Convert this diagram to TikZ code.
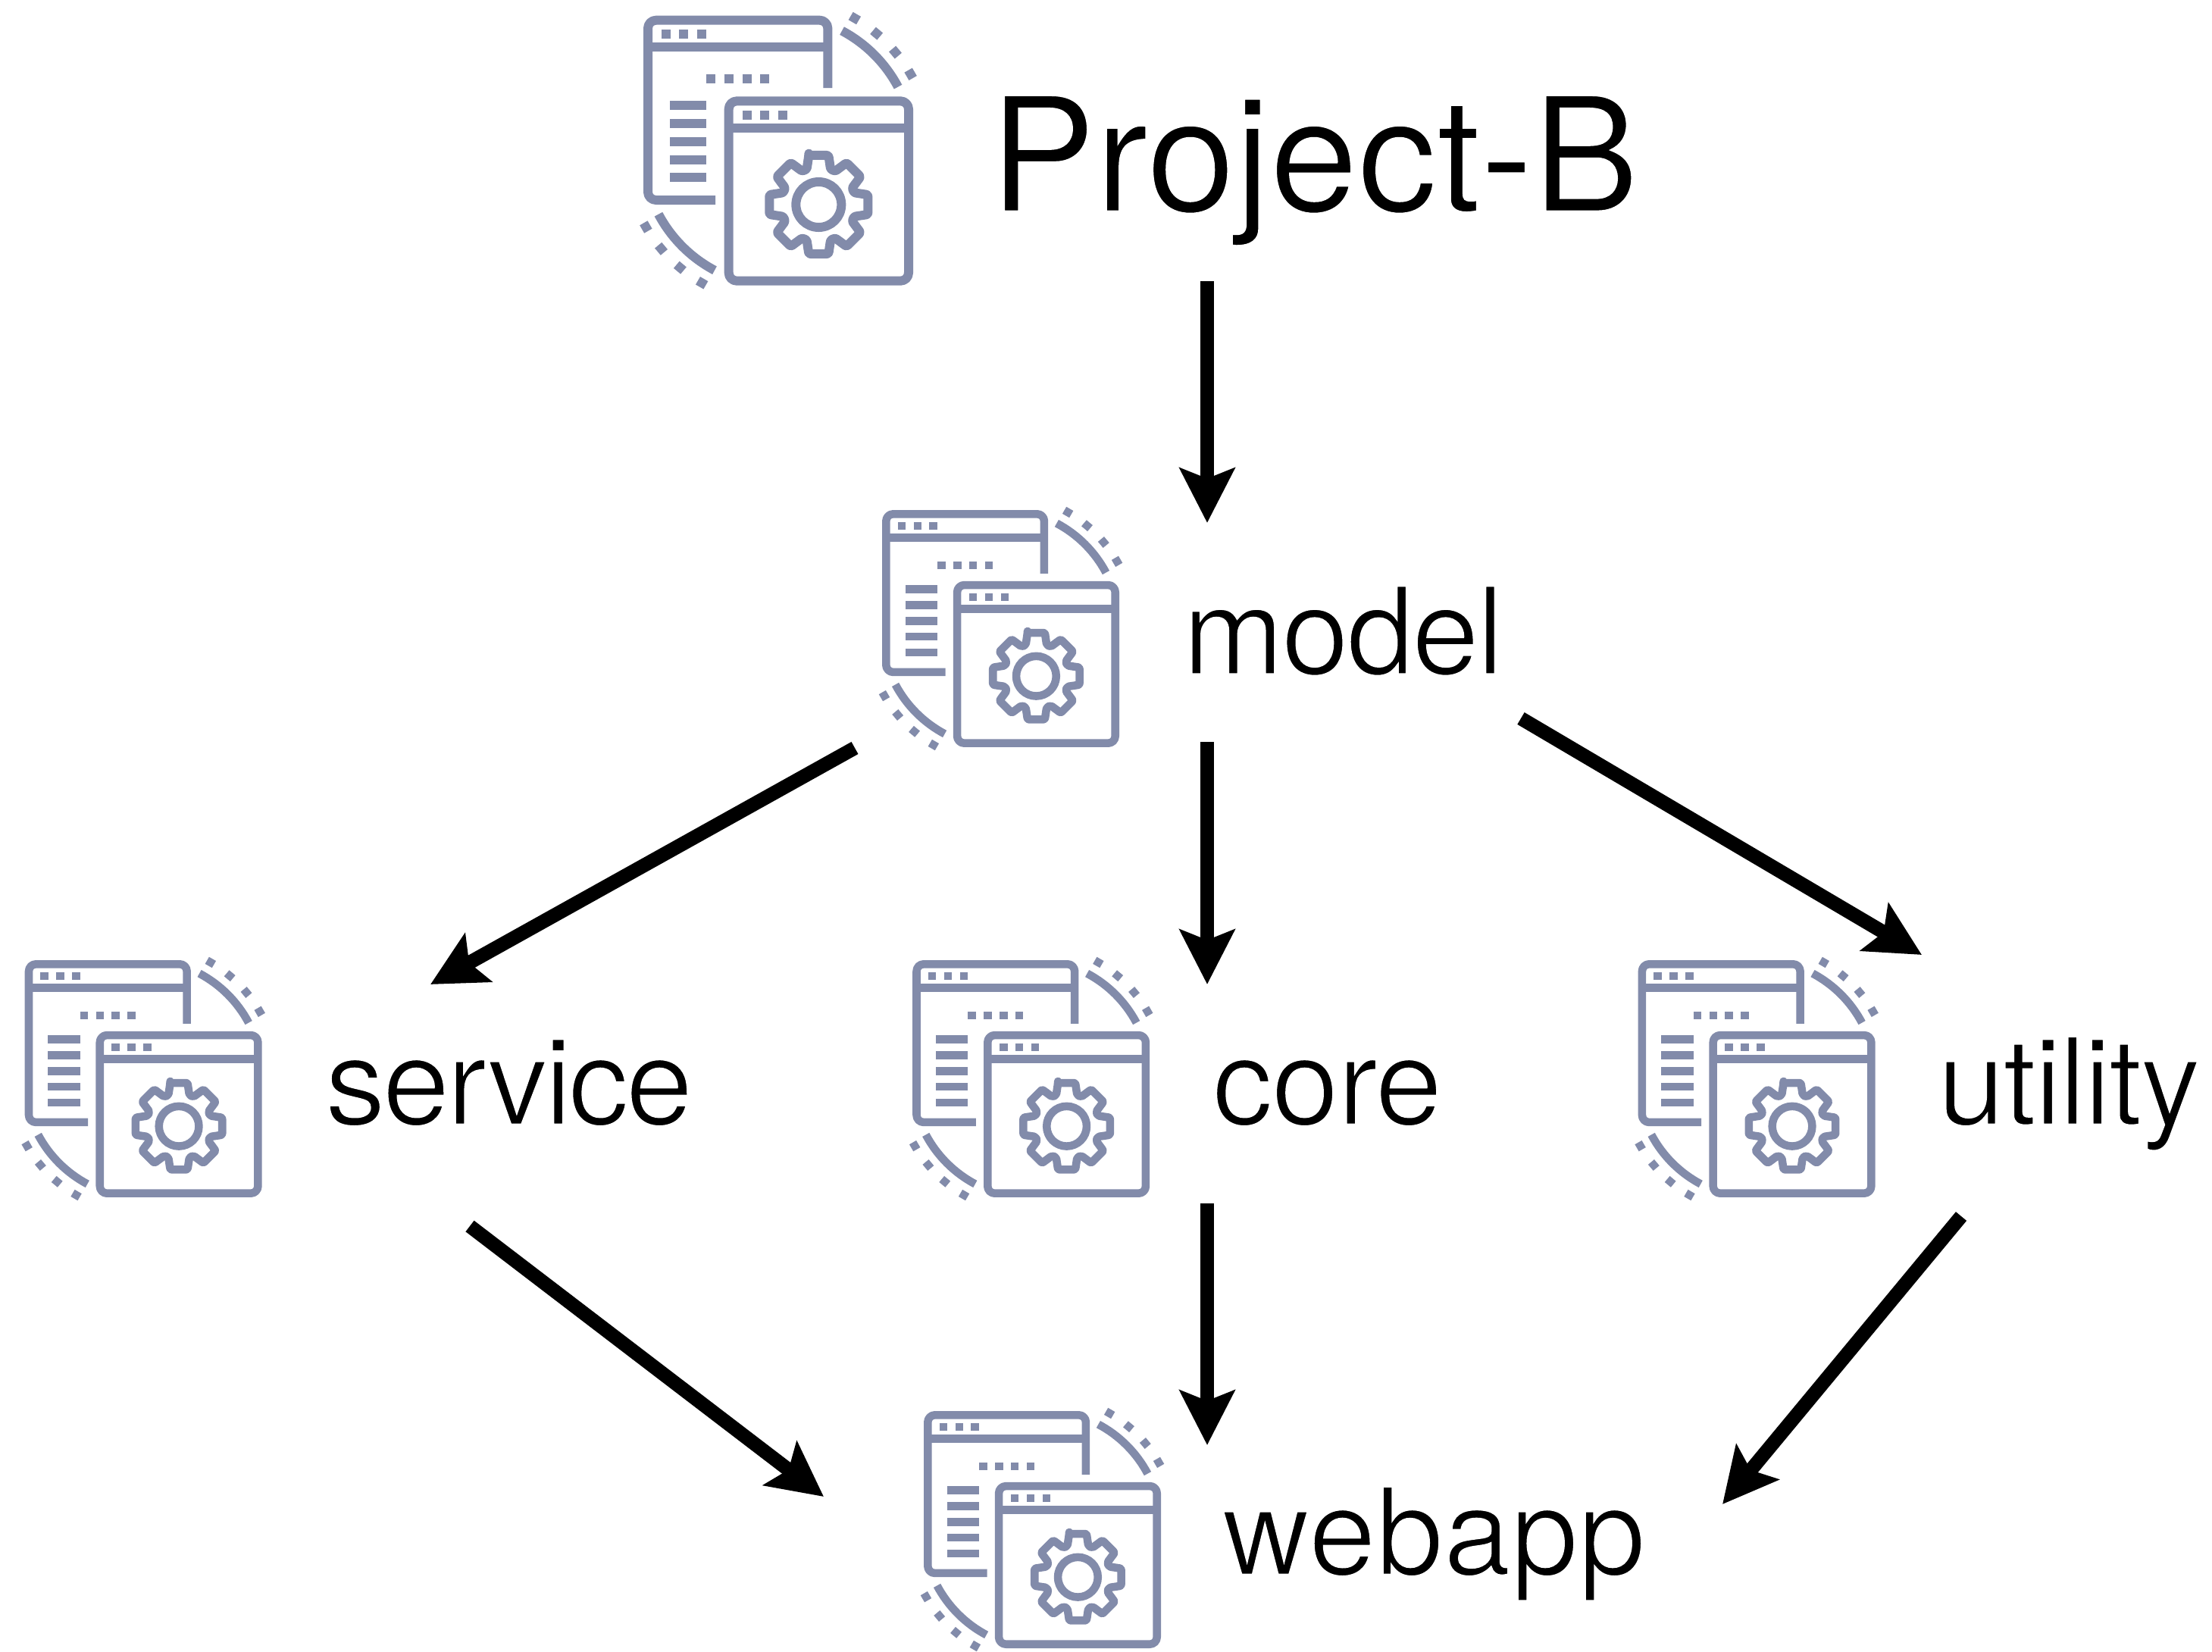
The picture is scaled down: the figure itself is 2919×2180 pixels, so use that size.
\documentclass[tikz,border=0pt]{standalone}
\usepackage{fontspec}
\setmainfont{TeX Gyre Heros}
\usetikzlibrary{arrows.meta}
\definecolor{iconblue}{HTML}{828BAA}
\tikzset{
  conn/.style={line width=4.6pt,draw=black,-{Stealth[length=18pt,width=18pt,inset=3.4pt]}},
  biglabel/.style={anchor=base west,inner sep=0pt,font=\fontsize{52.4}{60}\selectfont},
  label/.style={anchor=base west,inner sep=0pt,font=\fontsize{40}{48}\selectfont},
  iconline/.style={draw=iconblue,fill=none,line cap=butt,line join=round}
}
% #1 white-stroke width that thins the glyphs, #2 letter spacing, #3 text
\newcommand\thin[3]{\addfontfeatures{LetterSpace=#2}\special{pdf:code 2 Tr 1 1 1 RG #1 w}#3\special{pdf:code 0 Tr}}
% #1 left, #2 top, #3 size (reference pixels)
\newcommand\appicon[3]{%
  \pgfmathsetmacro\icx{#1+#3/2}\pgfmathsetmacro\icy{#2+#3/2}%
  \pgfmathsetlengthmacro\iu{#3/1068*0.25pt}%
  \begin{scope}[shift={(\icx,\icy)},x=\iu,y=-\iu,iconline,line width=36*\iu]
    % back window
    \draw[rounded corners=32*\iu] (196,-248) -- (196,-516) -- (-516,-516) -- (-516,196) -- (-249,196);
    \draw (-516,-410) -- (196,-410);
    \foreach \xx in {-445.5,-374,-303} \fill[iconblue] (\xx-18,-480.5) rectangle (\xx+18,-444.5);
    \foreach \xx in {-267,-195.5,-124.5,-53.5} \fill[iconblue] (\xx-18,-302.5) rectangle (\xx+18,-266.5);
    \foreach \yy in {-178,-106,-34.5,36.5,107} \fill[iconblue] (-429,\yy-18) rectangle (-285,\yy+18);
    % front window
    \draw[rounded corners=32*\iu] (-196,-196) rectangle (516,516);
    \draw (-196,-88) -- (516,-88);
    \foreach \xx in {-124.5,-53.5,18.5} \fill[iconblue] (\xx-18,-159.5) rectangle (\xx+18,-123.5);
    % gear
    \begin{scope}[shift={(160,214)}]
      \draw (0,0) circle[radius=90];
      \draw[rounded corners=7*\iu] (-11.3-90:199)
        \foreach \aa in {0,45,...,315} {
          -- (\aa-11.3-90:199) -- (\aa+11.3-90:199) -- (\aa+18.6-90:148) -- (\aa+45-18.6-90:148)
        } -- cycle;
    \end{scope}
    % arcs and dots, point-symmetric
    \foreach \rr in {0,180} {
      \begin{scope}[rotate=\rr]
        \draw (-62:537) arc[start angle=-62,end angle=-28,radius=537];
        \foreach \aa in {60,50,40,30}
          \fill[iconblue,shift={(-\aa:605)},rotate=\aa] (-18,-18) rectangle (18,18);
      \end{scope}
    }
  \end{scope}%
}
\begin{document}
\begin{tikzpicture}[x=0.25pt,y=-0.25pt]
\useasboundingbox (0,0) rectangle (2919,2180);
% icons
\appicon{849}{20.7}{356}
\appicon{1164}{673}{313}
\appicon{32.7}{1267}{313}
\appicon{1204.2}{1267}{313}
\appicon{2161.6}{1267}{313}
\appicon{1219}{1862}{313}
% labels
\node[biglabel] (project) at (1305,278.7) {\thin{0.55}{-0.25}{Project-B}};
\node[label] (model) at (1560,889.7) {\thin{0.7}{-1.9}{model}};
\node[label] (service) at (428,1484) {\thin{0.7}{-2.7}{service}};
\node[label] (core) at (1599,1484) {\thin{0.7}{-1.25}{core}};
\node[label] (utility) at (2556,1484) {\thin{0.7}{-1.8}{utility}};
\node[label] (webapp) at (1612,2078) {\thin{0.7}{0}{webapp}};
% connector ends
\coordinate (projectOut) at (1593,371);
\coordinate (modelIn) at (1593,690);
\coordinate (modelOutL) at (1128,987);
\coordinate (modelOutC) at (1593,979);
\coordinate (modelOutR) at (2007,948);
\coordinate (serviceIn) at (568,1299);
\coordinate (coreIn) at (1593,1299);
\coordinate (utilityIn) at (2536,1260);
\coordinate (serviceOut) at (620,1618);
\coordinate (coreOut) at (1593,1588);
\coordinate (utilityOut) at (2588,1605);
\coordinate (webappInL) at (1087,1975);
\coordinate (webappInC) at (1593,1907);
\coordinate (webappInR) at (2273,1985);
% connectors
\draw[conn] (projectOut) -- (modelIn);
\draw[conn] (modelOutL) -- (serviceIn);
\draw[conn] (modelOutC) -- (coreIn);
\draw[conn] (modelOutR) -- (utilityIn);
\draw[conn] (serviceOut) -- (webappInL);
\draw[conn] (coreOut) -- (webappInC);
\draw[conn] (utilityOut) -- (webappInR);
\end{tikzpicture}
\end{document}
